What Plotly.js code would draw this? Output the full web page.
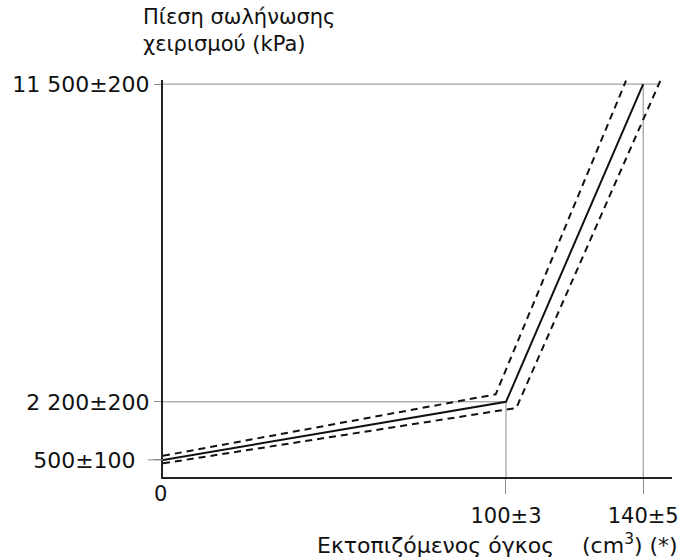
<!DOCTYPE html>
<html>
<head>
<meta charset="utf-8">
<script src="https://cdn.plot.ly/plotly-3.0.1.min.js"></script>
<style>html,body{margin:0;padding:0;background:#fff;}#chart{width:682px;height:560px;}</style>
</head>
<body>
<div id="chart"></div>
<script>
// Nominal curve
const volumeNominal = [0, 100, 140];
const pressureNominal = [500, 2200, 11500];
// Upper tolerance (dashed)
const volumeUpper = [0, 97, 135];
const pressureUpper = [620, 2420, 11600];
// Lower tolerance (dashed)
const volumeLower = [0, 103, 145];
const pressureLower = [400, 2020, 11600];

// Tick values and labels
const yTickVals = [500, 2200, 11500];
const yTickText = ['500±100\u00a0\u00a0', '2 200±200', '11 500±200'];
const xTickVals = [100, 140];
const xTickText = ['100±3', '140±5'];

const FONT = 'DejaVu Sans, Arial, sans-serif';
const grey = '#8a8a8a';

const traces = [
  {x: volumeUpper, y: pressureUpper, mode: 'lines', line: {color: '#111', width: 2, dash: '7px,5px'}, hoverinfo: 'skip', cliponaxis: false},
  {x: volumeLower, y: pressureLower, mode: 'lines', line: {color: '#111', width: 2, dash: '7px,5px'}, hoverinfo: 'skip', cliponaxis: false},
  {x: volumeNominal, y: pressureNominal, mode: 'lines', line: {color: '#111', width: 2}, hoverinfo: 'skip', cliponaxis: false}
];

const shapes = [
  // reference lines
  {type: 'line', xref: 'x', yref: 'y', x0: 0, x1: 144.9, y0: yTickVals[2], y1: yTickVals[2], line: {color: grey, width: 1}, layer: 'below'},
  {type: 'line', xref: 'x', yref: 'y', x0: 0, x1: xTickVals[0], y0: yTickVals[1], y1: yTickVals[1], line: {color: grey, width: 1}, layer: 'below'},
  {type: 'line', xref: 'x', yref: 'y', x0: xTickVals[0], x1: xTickVals[0], y0: 0, y1: yTickVals[1], line: {color: grey, width: 1}, layer: 'below'},
  {type: 'line', xref: 'x', yref: 'y', x0: xTickVals[1], x1: xTickVals[1], y0: 0, y1: yTickVals[2], line: {color: grey, width: 1}, layer: 'below'},
  // longer tick at 500
  {type: 'line', xref: 'paper', yref: 'y', x0: -0.03, x1: 0, y0: yTickVals[0], y1: yTickVals[0], line: {color: grey, width: 1}}
];

const layout = {
  width: 682, height: 560,
  margin: {l: 163, r: 10, t: 80, b: 83},
  paper_bgcolor: '#fff', plot_bgcolor: '#fff',
  showlegend: false,
  font: {family: FONT, color: '#111'},
  xaxis: {
    range: [0, 148.4], showgrid: false, zeroline: false,
    showline: true, linecolor: '#222', linewidth: 2,
    tickmode: 'array', tickvals: xTickVals, ticktext: xTickText,
    ticks: 'outside', ticklen: 15, tickcolor: grey, tickwidth: 1,
    tickfont: {family: FONT, size: 21, color: '#111'},
    ticklabelstandoff: 4, fixedrange: true
  },
  yaxis: {
    range: [0, 11620], showgrid: false, zeroline: false,
    showline: true, linecolor: '#222', linewidth: 2,
    tickmode: 'array', tickvals: yTickVals, ticktext: yTickText,
    ticks: 'outside', ticklen: 7, tickcolor: grey, tickwidth: 1,
    tickfont: {family: FONT, size: 22, color: '#111'},
    fixedrange: true
  },
  shapes: shapes,
  annotations: [
    {text: 'Πίεση σωλήνωσης<br>χειρισμού (kPa)', xref: 'paper', yref: 'paper', x: -0.043, y: 1.195, xanchor: 'left', yanchor: 'top', align: 'left', showarrow: false, font: {family: FONT, size: 21, color: '#111'}},
    {text: 'Εκτοπιζόμενος όγκος\u00a0\u00a0\u00a0\u00a0(cm<sup>3</sup>) (*)', xref: 'paper', yref: 'paper', x: 1.015, y: -0.168, xanchor: 'right', yanchor: 'middle', showarrow: false, font: {family: FONT, size: 22, color: '#111'}},
    {text: '0', xref: 'x', yref: 'y', x: 0, y: 0, xanchor: 'center', yanchor: 'top', xshift: -3, yshift: -3, showarrow: false, font: {family: FONT, size: 21, color: '#111'}}
  ]
};

Plotly.newPlot('chart', traces, layout, {displayModeBar: false, staticPlot: true});
</script>
</body>
</html>
